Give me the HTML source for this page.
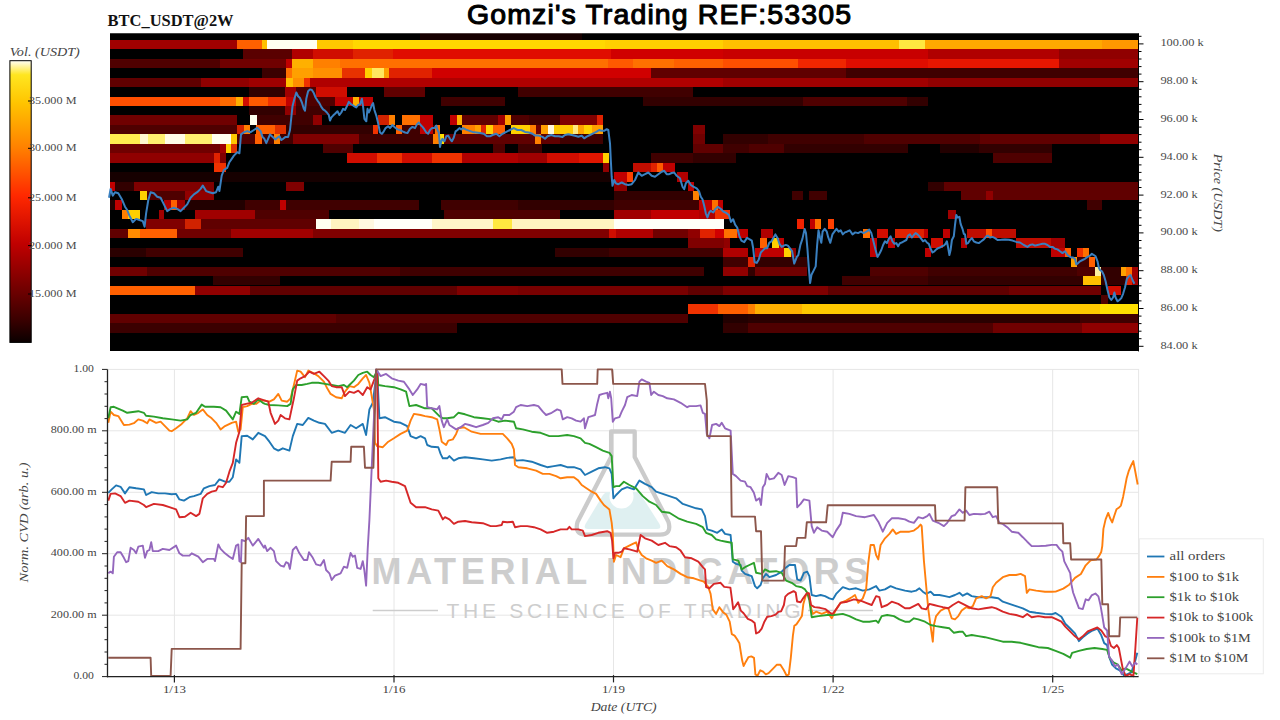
<!DOCTYPE html><html><head><meta charset="utf-8"><style>html,body{margin:0;padding:0;background:#fff;}svg{display:block;}text{font-family:"Liberation Serif",serif;}</style></head><body>
<svg width="1280" height="720" viewBox="0 0 1280 720">
<rect width="1280" height="720" fill="#fff"/>
<text x="659" y="23.6" text-anchor="middle" textLength="384" lengthAdjust="spacing" style="font-family:'Liberation Sans',sans-serif;font-size:28.5px" fill="#000" stroke="#000" stroke-width="1.1" stroke-linejoin="round" stroke-linecap="round">Gomzi's Trading REF:53305</text>
<text x="107.6" y="25.9" textLength="126" lengthAdjust="spacingAndGlyphs" style="font-weight:bold;font-size:16px" fill="#111">BTC_USDT@2W</text>
<defs><clipPath id="hc"><rect x="110" y="33.2" width="1028" height="318.2"/></clipPath><filter id="bl" x="-1%" y="-5%" width="102%" height="110%"><feGaussianBlur stdDeviation="0.55"/></filter></defs>
<g clip-path="url(#hc)"><g filter="url(#bl)" shape-rendering="crispEdges">
<rect x="110" y="33.2" width="1028" height="318.2" fill="#000"/>
<rect x="420" y="33.2" width="162" height="6.6" fill="#140000"/>
<rect x="110" y="39.8" width="127" height="9.5" fill="#a00000"/>
<rect x="237" y="39.8" width="24.7" height="9.5" fill="#ff6000"/>
<rect x="261.7" y="39.8" width="5.7" height="9.5" fill="#ffc000"/>
<rect x="267.4" y="39.8" width="49.6" height="9.5" fill="#fffff0"/>
<rect x="317" y="39.8" width="36" height="9.5" fill="#ffc800"/>
<rect x="353" y="39.8" width="251.5" height="9.5" fill="#ffd800"/>
<rect x="604.5" y="39.8" width="118.5" height="9.5" fill="#ffd000"/>
<rect x="723" y="39.8" width="176" height="9.5" fill="#ffc000"/>
<rect x="899" y="39.8" width="26" height="9.5" fill="#ffe840"/>
<rect x="925" y="39.8" width="177" height="9.5" fill="#ffa800"/>
<rect x="1102" y="39.8" width="36" height="9.5" fill="#ff9800"/>
<rect x="243" y="49.2" width="49" height="9.5" fill="#5a0000"/>
<rect x="292" y="49.2" width="21" height="9.5" fill="#b00000"/>
<rect x="313" y="49.2" width="40" height="9.5" fill="#d01000"/>
<rect x="353" y="49.2" width="40" height="9.5" fill="#e02000"/>
<rect x="393" y="49.2" width="218" height="9.5" fill="#e00800"/>
<rect x="611" y="49.2" width="112" height="9.5" fill="#d00000"/>
<rect x="723" y="49.2" width="205" height="9.5" fill="#c80000"/>
<rect x="928" y="49.2" width="131" height="9.5" fill="#b00000"/>
<rect x="1059" y="49.2" width="79" height="9.5" fill="#900000"/>
<rect x="110" y="58.7" width="110" height="9.4" fill="#500000"/>
<rect x="220" y="58.7" width="66" height="9.4" fill="#700000"/>
<rect x="286" y="58.7" width="6" height="9.4" fill="#c00000"/>
<rect x="292" y="58.7" width="21" height="9.4" fill="#ffb000"/>
<rect x="313" y="58.7" width="27" height="9.4" fill="#ff8000"/>
<rect x="340" y="58.7" width="267.7" height="9.4" fill="#ff7000"/>
<rect x="607.7" y="58.7" width="25.3" height="9.4" fill="#ff5a00"/>
<rect x="633" y="58.7" width="41" height="9.4" fill="#ff7000"/>
<rect x="674" y="58.7" width="49" height="9.4" fill="#ff6000"/>
<rect x="723" y="58.7" width="75" height="9.4" fill="#ff5000"/>
<rect x="798" y="58.7" width="48" height="9.4" fill="#f02800"/>
<rect x="846" y="58.7" width="82" height="9.4" fill="#e01000"/>
<rect x="928" y="58.7" width="131" height="9.4" fill="#e81800"/>
<rect x="1059" y="58.7" width="79" height="9.4" fill="#a00000"/>
<rect x="262" y="68.1" width="24" height="9.5" fill="#3a0000"/>
<rect x="286" y="68.1" width="6" height="9.5" fill="#ff7000"/>
<rect x="292" y="68.1" width="21" height="9.5" fill="#ffa000"/>
<rect x="313" y="68.1" width="29" height="9.5" fill="#ff9000"/>
<rect x="342" y="68.1" width="23" height="9.5" fill="#e83000"/>
<rect x="365" y="68.1" width="7" height="9.5" fill="#ffd000"/>
<rect x="372" y="68.1" width="11.5" height="9.5" fill="#ffe860"/>
<rect x="383.5" y="68.1" width="5.5" height="9.5" fill="#ffa000"/>
<rect x="389" y="68.1" width="43" height="9.5" fill="#e02000"/>
<rect x="432" y="68.1" width="219" height="9.5" fill="#d00000"/>
<rect x="651" y="68.1" width="72" height="9.5" fill="#600000"/>
<rect x="723" y="68.1" width="123" height="9.5" fill="#600000"/>
<rect x="846" y="68.1" width="292" height="9.5" fill="#400000"/>
<rect x="110" y="77.6" width="91" height="9.5" fill="#600000"/>
<rect x="201" y="77.6" width="48" height="9.5" fill="#900000"/>
<rect x="249" y="77.6" width="37" height="9.5" fill="#a00000"/>
<rect x="286" y="77.6" width="6.5" height="9.5" fill="#ffc000"/>
<rect x="292.5" y="77.6" width="11.2" height="9.5" fill="#ff9000"/>
<rect x="303.8" y="77.6" width="6.2" height="9.5" fill="#f03000"/>
<rect x="310" y="77.6" width="413" height="9.5" fill="#b00000"/>
<rect x="723" y="77.6" width="205" height="9.5" fill="#a00000"/>
<rect x="928" y="77.6" width="210" height="9.5" fill="#900000"/>
<rect x="249" y="87" width="36" height="9.5" fill="#300000"/>
<rect x="285" y="87" width="11" height="9.5" fill="#a00000"/>
<rect x="296" y="87" width="20" height="9.5" fill="#500000"/>
<rect x="316" y="87" width="31" height="9.5" fill="#d01000"/>
<rect x="383.5" y="87" width="41.5" height="9.5" fill="#600000"/>
<rect x="518" y="87" width="174.6" height="9.5" fill="#400000"/>
<rect x="110" y="96.5" width="110" height="9.5" fill="#ff5000"/>
<rect x="220" y="96.5" width="16" height="9.5" fill="#ff6a00"/>
<rect x="236" y="96.5" width="7" height="9.5" fill="#ffb000"/>
<rect x="243" y="96.5" width="6" height="9.5" fill="#d01000"/>
<rect x="249" y="96.5" width="18.5" height="9.5" fill="#ff5a00"/>
<rect x="267.5" y="96.5" width="18.5" height="9.5" fill="#f03000"/>
<rect x="286" y="96.5" width="10" height="9.5" fill="#c00000"/>
<rect x="296" y="96.5" width="39" height="9.5" fill="#500000"/>
<rect x="335" y="96.5" width="17.5" height="9.5" fill="#c00000"/>
<rect x="352.5" y="96.5" width="6.2" height="9.5" fill="#ffb000"/>
<rect x="358.8" y="96.5" width="13.8" height="9.5" fill="#c00000"/>
<rect x="441" y="96.5" width="64" height="9.5" fill="#400000"/>
<rect x="643" y="96.5" width="160" height="9.5" fill="#300000"/>
<rect x="803" y="96.5" width="104" height="9.5" fill="#500000"/>
<rect x="907" y="96.5" width="21" height="9.5" fill="#300000"/>
<rect x="249" y="105.9" width="36" height="9.5" fill="#300000"/>
<rect x="285" y="105.9" width="11" height="9.5" fill="#900000"/>
<rect x="296" y="105.9" width="34" height="9.5" fill="#400000"/>
<rect x="110" y="115.4" width="127" height="9.5" fill="#700000"/>
<rect x="250" y="115.4" width="6.5" height="9.5" fill="#fffff0"/>
<rect x="256.5" y="115.4" width="56.5" height="9.5" fill="#400000"/>
<rect x="313" y="115.4" width="9" height="9.5" fill="#900000"/>
<rect x="377.5" y="115.4" width="11.2" height="9.5" fill="#d02000"/>
<rect x="388.8" y="115.4" width="6.2" height="9.5" fill="#ff8000"/>
<rect x="402" y="115.4" width="18" height="9.5" fill="#ff7000"/>
<rect x="420" y="115.4" width="12.5" height="9.5" fill="#c00000"/>
<rect x="450" y="115.4" width="7" height="9.5" fill="#c00000"/>
<rect x="457" y="115.4" width="5" height="9.5" fill="#ffb000"/>
<rect x="462" y="115.4" width="35.5" height="9.5" fill="#600000"/>
<rect x="497.5" y="115.4" width="7.5" height="9.5" fill="#a00000"/>
<rect x="505" y="115.4" width="6" height="9.5" fill="#ffa000"/>
<rect x="511" y="115.4" width="18" height="9.5" fill="#500000"/>
<rect x="529" y="115.4" width="30.6" height="9.5" fill="#400000"/>
<rect x="559.6" y="115.4" width="36.9" height="9.5" fill="#800000"/>
<rect x="596.5" y="115.4" width="6.5" height="9.5" fill="#e02000"/>
<rect x="110" y="124.8" width="127" height="9.4" fill="#500000"/>
<rect x="237" y="124.8" width="7" height="9.4" fill="#d02000"/>
<rect x="244" y="124.8" width="6" height="9.4" fill="#ff8000"/>
<rect x="256" y="124.8" width="18.5" height="9.4" fill="#ff6000"/>
<rect x="274.5" y="124.8" width="11.5" height="9.4" fill="#e03000"/>
<rect x="286" y="124.8" width="86.5" height="9.4" fill="#300000"/>
<rect x="372.5" y="124.8" width="5" height="9.4" fill="#f03000"/>
<rect x="396" y="124.8" width="6" height="9.4" fill="#ff6000"/>
<rect x="402" y="124.8" width="18" height="9.4" fill="#400000"/>
<rect x="420" y="124.8" width="12.5" height="9.4" fill="#c00000"/>
<rect x="432.5" y="124.8" width="2.2" height="9.4" fill="#400000"/>
<rect x="434.7" y="124.8" width="4.8" height="9.4" fill="#ff7000"/>
<rect x="462" y="124.8" width="13" height="9.4" fill="#ff8000"/>
<rect x="475" y="124.8" width="6" height="9.4" fill="#ffa000"/>
<rect x="481" y="124.8" width="5" height="9.4" fill="#e02000"/>
<rect x="486" y="124.8" width="7" height="9.4" fill="#ffd000"/>
<rect x="493" y="124.8" width="12" height="9.4" fill="#ff6000"/>
<rect x="511" y="124.8" width="19" height="9.4" fill="#ffd000"/>
<rect x="530" y="124.8" width="6" height="9.4" fill="#ff8000"/>
<rect x="536" y="124.8" width="5" height="9.4" fill="#700000"/>
<rect x="541" y="124.8" width="6.6" height="9.4" fill="#ffa000"/>
<rect x="547.6" y="124.8" width="6.4" height="9.4" fill="#fff8e0"/>
<rect x="554" y="124.8" width="18.5" height="9.4" fill="#ffc800"/>
<rect x="572.5" y="124.8" width="5.5" height="9.4" fill="#ffe880"/>
<rect x="578" y="124.8" width="5.7" height="9.4" fill="#ffa000"/>
<rect x="583.7" y="124.8" width="8" height="9.4" fill="#ffd000"/>
<rect x="591.7" y="124.8" width="11.3" height="9.4" fill="#ffa000"/>
<rect x="692.6" y="124.8" width="12.8" height="9.4" fill="#800000"/>
<rect x="110" y="134.3" width="30" height="9.4" fill="#ffec50"/>
<rect x="140" y="134.3" width="7.8" height="9.4" fill="#fff8d0"/>
<rect x="147.8" y="134.3" width="16.8" height="9.4" fill="#fff070"/>
<rect x="164.6" y="134.3" width="19.9" height="9.4" fill="#fffce8"/>
<rect x="184.5" y="134.3" width="27.5" height="9.4" fill="#fff070"/>
<rect x="212" y="134.3" width="19" height="9.4" fill="#fffff0"/>
<rect x="231" y="134.3" width="6" height="9.4" fill="#ffc800"/>
<rect x="237" y="134.3" width="18" height="9.4" fill="#500000"/>
<rect x="255" y="134.3" width="7" height="9.4" fill="#ff6000"/>
<rect x="262" y="134.3" width="11.8" height="9.4" fill="#400000"/>
<rect x="273.8" y="134.3" width="6.2" height="9.4" fill="#ff8000"/>
<rect x="280" y="134.3" width="12.5" height="9.4" fill="#400000"/>
<rect x="292.5" y="134.3" width="66.5" height="9.4" fill="#800000"/>
<rect x="359" y="134.3" width="73.5" height="9.4" fill="#400000"/>
<rect x="432.5" y="134.3" width="6.5" height="9.4" fill="#ff8000"/>
<rect x="439" y="134.3" width="5" height="9.4" fill="#ffe000"/>
<rect x="444" y="134.3" width="91" height="9.4" fill="#600000"/>
<rect x="535" y="134.3" width="6" height="9.4" fill="#ff8000"/>
<rect x="541" y="134.3" width="19" height="9.4" fill="#600000"/>
<rect x="560" y="134.3" width="43" height="9.4" fill="#400000"/>
<rect x="692.6" y="134.3" width="12.8" height="9.4" fill="#700000"/>
<rect x="723" y="134.3" width="45" height="9.4" fill="#300000"/>
<rect x="768" y="134.3" width="96" height="9.4" fill="#400000"/>
<rect x="864" y="134.3" width="116" height="9.4" fill="#500000"/>
<rect x="980" y="134.3" width="120" height="9.4" fill="#600000"/>
<rect x="1100" y="134.3" width="38" height="9.4" fill="#900000"/>
<rect x="110" y="143.8" width="110" height="9.4" fill="#700000"/>
<rect x="220" y="143.8" width="6" height="9.4" fill="#a00000"/>
<rect x="226" y="143.8" width="5" height="9.4" fill="#ffd000"/>
<rect x="231" y="143.8" width="6" height="9.4" fill="#e03000"/>
<rect x="322.5" y="143.8" width="30" height="9.4" fill="#500000"/>
<rect x="492.5" y="143.8" width="12.5" height="9.4" fill="#500000"/>
<rect x="518" y="143.8" width="24" height="9.4" fill="#400000"/>
<rect x="692.6" y="143.8" width="30.4" height="9.4" fill="#600000"/>
<rect x="723" y="143.8" width="25.6" height="9.4" fill="#400000"/>
<rect x="748.6" y="143.8" width="35.4" height="9.4" fill="#500000"/>
<rect x="784" y="143.8" width="124" height="9.4" fill="#300000"/>
<rect x="940" y="143.8" width="39" height="9.4" fill="#200000"/>
<rect x="979" y="143.8" width="73" height="9.4" fill="#300000"/>
<rect x="110" y="153.2" width="104" height="9.4" fill="#900000"/>
<rect x="214" y="153.2" width="6" height="9.4" fill="#e02000"/>
<rect x="220" y="153.2" width="6" height="9.4" fill="#800000"/>
<rect x="346.6" y="153.2" width="30.4" height="9.4" fill="#d01000"/>
<rect x="377" y="153.2" width="25" height="9.4" fill="#f03000"/>
<rect x="402" y="153.2" width="30" height="9.4" fill="#d01000"/>
<rect x="432" y="153.2" width="30" height="9.4" fill="#f03000"/>
<rect x="462" y="153.2" width="56" height="9.4" fill="#b00000"/>
<rect x="518" y="153.2" width="28.8" height="9.4" fill="#a00000"/>
<rect x="546.8" y="153.2" width="32.2" height="9.4" fill="#d01000"/>
<rect x="579" y="153.2" width="24" height="9.4" fill="#e01800"/>
<rect x="603" y="153.2" width="6.3" height="9.4" fill="#ffd000"/>
<rect x="651" y="153.2" width="41.6" height="9.4" fill="#400000"/>
<rect x="692.6" y="153.2" width="43.4" height="9.4" fill="#300000"/>
<rect x="992.6" y="153.2" width="59.4" height="9.4" fill="#500000"/>
<rect x="214" y="162.6" width="12" height="9.4" fill="#f03000"/>
<rect x="603" y="162.6" width="6.3" height="9.4" fill="#900000"/>
<rect x="633" y="162.6" width="18" height="9.4" fill="#c01000"/>
<rect x="651" y="162.6" width="6" height="9.4" fill="#e02000"/>
<rect x="657" y="162.6" width="6" height="9.4" fill="#ff5a00"/>
<rect x="663" y="162.6" width="12" height="9.4" fill="#c00000"/>
<rect x="110" y="172.1" width="504" height="9.4" fill="#150000"/>
<rect x="614" y="172.1" width="13" height="9.4" fill="#c00000"/>
<rect x="627" y="172.1" width="6" height="9.4" fill="#ff4000"/>
<rect x="676.5" y="172.1" width="11.3" height="9.4" fill="#b00000"/>
<rect x="110" y="181.6" width="5" height="9.4" fill="#c00000"/>
<rect x="115" y="181.6" width="19" height="9.4" fill="#300000"/>
<rect x="134" y="181.6" width="80" height="9.4" fill="#800000"/>
<rect x="286" y="181.6" width="18" height="9.4" fill="#800000"/>
<rect x="614" y="181.6" width="13" height="9.4" fill="#900000"/>
<rect x="687.8" y="181.6" width="6.2" height="9.4" fill="#c00000"/>
<rect x="928" y="181.6" width="16" height="9.4" fill="#300000"/>
<rect x="944" y="181.6" width="194" height="9.4" fill="#600000"/>
<rect x="140" y="191" width="6.5" height="9.4" fill="#ffd000"/>
<rect x="146.5" y="191" width="38.5" height="9.4" fill="#500000"/>
<rect x="185" y="191" width="29" height="9.4" fill="#900000"/>
<rect x="614" y="191" width="78.6" height="9.4" fill="#300000"/>
<rect x="692.6" y="191" width="6.4" height="9.4" fill="#ff8000"/>
<rect x="792" y="191" width="11" height="9.4" fill="#400000"/>
<rect x="809" y="191" width="18" height="9.4" fill="#400000"/>
<rect x="961" y="191" width="25" height="9.4" fill="#600000"/>
<rect x="986" y="191" width="6.6" height="9.4" fill="#900000"/>
<rect x="992.6" y="191" width="145.4" height="9.4" fill="#600000"/>
<rect x="110" y="200.4" width="5" height="9.4" fill="#200000"/>
<rect x="115" y="200.4" width="6.6" height="9.4" fill="#c00000"/>
<rect x="164" y="200.4" width="6.5" height="9.4" fill="#b00000"/>
<rect x="170.5" y="200.4" width="6.5" height="9.4" fill="#ff6000"/>
<rect x="177" y="200.4" width="8" height="9.4" fill="#a00000"/>
<rect x="185" y="200.4" width="59.5" height="9.4" fill="#200000"/>
<rect x="244.5" y="200.4" width="35.5" height="9.4" fill="#400000"/>
<rect x="280" y="200.4" width="6" height="9.4" fill="#c00000"/>
<rect x="286" y="200.4" width="132.7" height="9.4" fill="#400000"/>
<rect x="441" y="200.4" width="77" height="9.4" fill="#400000"/>
<rect x="518" y="200.4" width="96" height="9.4" fill="#300000"/>
<rect x="614" y="200.4" width="85" height="9.4" fill="#400000"/>
<rect x="699" y="200.4" width="12.8" height="9.4" fill="#c00000"/>
<rect x="711.8" y="200.4" width="6.4" height="9.4" fill="#ff7000"/>
<rect x="718.2" y="200.4" width="4.8" height="9.4" fill="#c00000"/>
<rect x="1087" y="200.4" width="15" height="9.4" fill="#400000"/>
<rect x="121.6" y="209.9" width="6.4" height="9.4" fill="#ff8000"/>
<rect x="128" y="209.9" width="12" height="9.4" fill="#ffd000"/>
<rect x="159" y="209.9" width="5" height="9.4" fill="#a00000"/>
<rect x="195" y="209.9" width="60" height="9.4" fill="#a00000"/>
<rect x="255" y="209.9" width="74" height="9.4" fill="#500000"/>
<rect x="444" y="209.9" width="115.6" height="9.4" fill="#500000"/>
<rect x="614" y="209.9" width="37" height="9.4" fill="#a00000"/>
<rect x="651" y="209.9" width="48" height="9.4" fill="#c00000"/>
<rect x="699" y="209.9" width="16" height="9.4" fill="#b00000"/>
<rect x="715" y="209.9" width="15" height="9.4" fill="#f03000"/>
<rect x="948" y="209.9" width="8" height="9.4" fill="#a00000"/>
<rect x="146" y="219.3" width="39" height="9.4" fill="#800000"/>
<rect x="185" y="219.3" width="16" height="9.4" fill="#d02000"/>
<rect x="201" y="219.3" width="115" height="9.4" fill="#600000"/>
<rect x="316" y="219.3" width="14.6" height="9.4" fill="#fffff0"/>
<rect x="330.6" y="219.3" width="28.4" height="9.4" fill="#fff4c0"/>
<rect x="359" y="219.3" width="15" height="9.4" fill="#fff8e0"/>
<rect x="374" y="219.3" width="57.5" height="9.4" fill="#fffff8"/>
<rect x="431.5" y="219.3" width="61.5" height="9.4" fill="#fff6c8"/>
<rect x="493" y="219.3" width="18.6" height="9.4" fill="#ffe840"/>
<rect x="511.6" y="219.3" width="102.4" height="9.4" fill="#fff4c0"/>
<rect x="614" y="219.3" width="110" height="9.4" fill="#fffff8"/>
<rect x="797" y="219.3" width="7" height="9.4" fill="#f02000"/>
<rect x="810" y="219.3" width="5" height="9.4" fill="#c00000"/>
<rect x="815" y="219.3" width="6" height="9.4" fill="#ff7000"/>
<rect x="827.5" y="219.3" width="6.2" height="9.4" fill="#ff4000"/>
<rect x="110" y="228.8" width="18" height="9.4" fill="#600000"/>
<rect x="128" y="228.8" width="12" height="9.4" fill="#ff8c00"/>
<rect x="140" y="228.8" width="37" height="9.4" fill="#ff6000"/>
<rect x="177" y="228.8" width="53.5" height="9.4" fill="#700000"/>
<rect x="230.5" y="228.8" width="82.5" height="9.4" fill="#a00000"/>
<rect x="313" y="228.8" width="296" height="9.4" fill="#800000"/>
<rect x="609" y="228.8" width="7" height="9.4" fill="#d01000"/>
<rect x="616" y="228.8" width="36.8" height="9.4" fill="#b00000"/>
<rect x="652.8" y="228.8" width="35" height="9.4" fill="#700000"/>
<rect x="687.8" y="228.8" width="12.2" height="9.4" fill="#900000"/>
<rect x="700" y="228.8" width="15" height="9.4" fill="#e02000"/>
<rect x="715" y="228.8" width="9" height="9.4" fill="#d00000"/>
<rect x="724" y="228.8" width="13" height="9.4" fill="#ff7000"/>
<rect x="737" y="228.8" width="11" height="9.4" fill="#c00000"/>
<rect x="761" y="228.8" width="12" height="9.4" fill="#b00000"/>
<rect x="863" y="228.8" width="7" height="9.4" fill="#ff7000"/>
<rect x="877" y="228.8" width="10.5" height="9.4" fill="#d01000"/>
<rect x="894.5" y="228.8" width="29.5" height="9.4" fill="#e02000"/>
<rect x="924" y="228.8" width="4" height="9.4" fill="#c00000"/>
<rect x="943" y="228.8" width="7" height="9.4" fill="#c00000"/>
<rect x="966.5" y="228.8" width="19.3" height="9.4" fill="#c01000"/>
<rect x="985.8" y="228.8" width="6.2" height="9.4" fill="#ff5000"/>
<rect x="992" y="228.8" width="23.5" height="9.4" fill="#c01000"/>
<rect x="687.8" y="238.2" width="36.2" height="9.4" fill="#800000"/>
<rect x="724" y="238.2" width="6" height="9.4" fill="#900000"/>
<rect x="760" y="238.2" width="7" height="9.4" fill="#ff6000"/>
<rect x="772" y="238.2" width="7" height="9.4" fill="#ffd000"/>
<rect x="779" y="238.2" width="5" height="9.4" fill="#c00000"/>
<rect x="870" y="238.2" width="7" height="9.4" fill="#c00000"/>
<rect x="887.5" y="238.2" width="7" height="9.4" fill="#c00000"/>
<rect x="930.6" y="238.2" width="12.4" height="9.4" fill="#d01000"/>
<rect x="961" y="238.2" width="5.5" height="9.4" fill="#b00000"/>
<rect x="1015.5" y="238.2" width="35.5" height="9.4" fill="#c01000"/>
<rect x="1051" y="238.2" width="14" height="9.4" fill="#a00000"/>
<rect x="110" y="247.7" width="36" height="9.4" fill="#2a0000"/>
<rect x="146" y="247.7" width="97" height="9.4" fill="#400000"/>
<rect x="555" y="247.7" width="54" height="9.4" fill="#300000"/>
<rect x="609" y="247.7" width="114" height="9.4" fill="#400000"/>
<rect x="723" y="247.7" width="24.5" height="9.4" fill="#b00000"/>
<rect x="754.5" y="247.7" width="29.5" height="9.4" fill="#c00000"/>
<rect x="784" y="247.7" width="7" height="9.4" fill="#ffd000"/>
<rect x="791" y="247.7" width="5" height="9.4" fill="#900000"/>
<rect x="870" y="247.7" width="7" height="9.4" fill="#c00000"/>
<rect x="925" y="247.7" width="6" height="9.4" fill="#c00000"/>
<rect x="1051" y="247.7" width="14" height="9.4" fill="#c00000"/>
<rect x="1065" y="247.7" width="5.7" height="9.4" fill="#ff6000"/>
<rect x="1077" y="247.7" width="5.5" height="9.4" fill="#f03000"/>
<rect x="1082.5" y="247.7" width="6" height="9.4" fill="#ff7000"/>
<rect x="723" y="257.1" width="25" height="9.4" fill="#400000"/>
<rect x="748" y="257.1" width="6.5" height="9.4" fill="#e02000"/>
<rect x="754.5" y="257.1" width="52.5" height="9.4" fill="#300000"/>
<rect x="1070.7" y="257.1" width="5.8" height="9.4" fill="#ffa000"/>
<rect x="1076.5" y="257.1" width="12.5" height="9.4" fill="#400000"/>
<rect x="1089" y="257.1" width="6" height="9.4" fill="#ff6000"/>
<rect x="110" y="266.6" width="36.5" height="9.4" fill="#700000"/>
<rect x="146.5" y="266.6" width="253.5" height="9.4" fill="#500000"/>
<rect x="400" y="266.6" width="303.5" height="9.4" fill="#400000"/>
<rect x="723" y="266.6" width="24.5" height="9.4" fill="#900000"/>
<rect x="747.5" y="266.6" width="7" height="9.4" fill="#300000"/>
<rect x="754.5" y="266.6" width="52.5" height="9.4" fill="#700000"/>
<rect x="870" y="266.6" width="58" height="9.4" fill="#500000"/>
<rect x="928" y="266.6" width="149" height="9.4" fill="#400000"/>
<rect x="1077" y="266.6" width="18" height="9.4" fill="#500000"/>
<rect x="1095" y="266.6" width="6" height="9.4" fill="#fff0a0"/>
<rect x="1101" y="266.6" width="19.6" height="9.4" fill="#300000"/>
<rect x="1120.6" y="266.6" width="5.2" height="9.4" fill="#ffa000"/>
<rect x="1125.8" y="266.6" width="6.2" height="9.4" fill="#ff7000"/>
<rect x="1132" y="266.6" width="6" height="9.4" fill="#a00000"/>
<rect x="213" y="276" width="66.5" height="9.4" fill="#300000"/>
<rect x="842" y="276" width="86" height="9.4" fill="#400000"/>
<rect x="928" y="276" width="155" height="9.4" fill="#300000"/>
<rect x="1083" y="276" width="18" height="9.4" fill="#ffc000"/>
<rect x="1101" y="276" width="24.8" height="9.4" fill="#300000"/>
<rect x="1125.8" y="276" width="6.2" height="9.4" fill="#e02000"/>
<rect x="1132" y="276" width="6" height="9.4" fill="#a00000"/>
<rect x="110" y="285.5" width="84.6" height="9.4" fill="#ff6000"/>
<rect x="194.6" y="285.5" width="55.4" height="9.4" fill="#900000"/>
<rect x="250" y="285.5" width="206.5" height="9.4" fill="#600000"/>
<rect x="456.5" y="285.5" width="61.5" height="9.4" fill="#800000"/>
<rect x="518" y="285.5" width="169.8" height="9.4" fill="#780000"/>
<rect x="687.8" y="285.5" width="35.2" height="9.4" fill="#600000"/>
<rect x="723" y="285.5" width="105" height="9.4" fill="#800000"/>
<rect x="828" y="285.5" width="180.5" height="9.4" fill="#600000"/>
<rect x="1008.5" y="285.5" width="92.5" height="9.4" fill="#700000"/>
<rect x="1108" y="285.5" width="12.6" height="9.4" fill="#d01000"/>
<rect x="1101" y="294.9" width="7" height="9.4" fill="#500000"/>
<rect x="687.8" y="304.4" width="29.7" height="9.4" fill="#f03000"/>
<rect x="717.5" y="304.4" width="30" height="9.4" fill="#ff6000"/>
<rect x="747.5" y="304.4" width="7" height="9.4" fill="#ff8000"/>
<rect x="754.5" y="304.4" width="47.5" height="9.4" fill="#ffb000"/>
<rect x="802" y="304.4" width="298" height="9.4" fill="#ffc800"/>
<rect x="1100" y="304.4" width="38" height="9.4" fill="#ffe000"/>
<rect x="110" y="313.8" width="226" height="9.4" fill="#600000"/>
<rect x="336" y="313.8" width="351.8" height="9.4" fill="#500000"/>
<rect x="723" y="313.8" width="24.5" height="9.4" fill="#200000"/>
<rect x="747.5" y="313.8" width="332.5" height="9.4" fill="#2a0000"/>
<rect x="1080" y="313.8" width="58" height="9.4" fill="#400000"/>
<rect x="110" y="323.3" width="346.5" height="9.4" fill="#3a0000"/>
<rect x="723" y="323.3" width="24.5" height="9.4" fill="#300000"/>
<rect x="747.5" y="323.3" width="245.5" height="9.4" fill="#500000"/>
<rect x="993" y="323.3" width="89" height="9.4" fill="#700000"/>
<rect x="1082" y="323.3" width="56" height="9.4" fill="#900000"/>
</g></g>
<polyline points="109,197.8 110.6,188.9 112.8,195.6 115,192.2 118.3,193.3 121.7,198.9 125,206.7 127.2,210 129.4,215.6 132.8,222.2 136.1,218.9 139.4,220 142.8,221.1 144.6,226.7 146.1,213.3 148.3,200 150.6,192.2 153.9,193.3 157.2,196.7 160.6,197.8 163.9,204.4 167.2,211.1 170.6,208.9 173.9,207.8 177.2,208.9 180.6,211.1 183.9,207.8 187.2,204.4 190.6,197.8 193.9,194.4 197.2,192.2 200.6,188.9 202.8,185.6 206.1,191.1 209.4,192.2 212.8,193.3 216.1,192.2 218.3,186.7 219.4,191.1 221.7,175.6 223.9,170 227.2,167.8 229.4,162.2 231.7,158.9 233.9,155.6 237.2,152.2 239.4,153.3 241,134.4 243.9,132.2 247.2,131.1 250.6,132.2 253.9,130 257.2,127.8 260.6,131.1 262.5,136.9 264.4,138.8 266.3,143.1 268.1,138.8 270,134.4 271.9,136.3 273.8,138.1 275.6,139.4 277.5,137.5 279.4,136.3 281.3,140 283.1,138.8 285.6,136.9 288.1,136.9 290,130 291.3,117.5 292.5,106.3 294.4,98.8 296.3,92.5 298.1,96.3 300,98.1 301.9,102.5 303.8,108.8 305,110.6 306.3,98.8 308.1,91.3 310,89.4 311.9,90 313.8,93.1 315.6,97.5 317.5,100.6 319.4,103.1 321.3,106.9 323.1,109.4 325,110.6 326.9,112.5 328.8,115 330,120.6 331.3,117.5 333.1,115.6 335,113.8 337.5,111.3 339.4,115 341.3,112.5 343.1,108.8 345,110 346.9,106.3 348.8,101.9 350.6,103.8 352.5,105 354.4,106.3 356.3,107.5 358.1,105 360,104.4 361.9,98.8 363.1,106.9 364.4,118.8 366.3,121.3 367.5,108.8 368.8,112.5 370,110 371.9,105 373.1,103.1 374.4,110 376.3,115.6 378.1,123.1 380,132.5 381.9,133.8 383.8,131.3 385.6,128.1 388.1,126.3 390,128.1 392.5,125 395,127.5 397.5,129.4 400,130 402.5,131.3 405,132.5 407.5,133.1 410,128.8 412.5,126.9 415,128.1 416.9,124.4 418.8,122.5 420.6,125 422.5,126.9 424.4,129.4 426.3,132.5 428.1,133.8 430,130 431.9,128.1 434.4,128.1 436.3,125.6 437.5,130 438.8,132.5 440,146.9 441.3,141.3 442.5,138.8 444.4,141.3 446.3,136.3 448.1,135.6 450,138.8 451.9,141.3 453.8,137.5 455.6,131.3 457.5,130 459.4,128.1 461.3,129.4 463.1,128.1 465.6,129.4 468.8,130.6 472.5,131.9 476.3,132.5 480,133.1 483.8,133.8 486.9,136.3 490,136.3 492.5,135 496.3,133.8 499.4,136.3 502.5,133.8 506.3,131.9 510,130 513.8,128.1 517.5,130 521.3,130 525,131.9 528.8,132.5 532.5,133.8 535,135.6 538.8,135.6 542.5,136.9 545,138.8 547.5,136.3 551.3,135 555,136.3 558.8,136.3 562.5,136.9 565,135 568.3,134.2 571.7,135 575,135.8 578.3,136.7 581.7,135.8 584.2,138.3 586.7,136.7 590,135 593.3,133.3 596.7,131.7 599.2,130 601.7,130.8 604.2,130.8 606.7,129.2 608.3,130 610,143.3 610.8,160 611.7,176.7 612.5,185.8 614.2,180 615.8,183.3 618.3,184.2 621.7,182.5 625,184.2 628.3,185 631.7,184.2 635,180 638.3,172.5 641.7,175.8 645,174.2 648.3,172.5 651.7,175.8 655,176.7 658.3,174.2 661.7,171.7 664.2,170.8 666.7,174.2 669.2,174.2 671.7,173 674.2,172.5 676.7,175.8 680,178.3 682.5,186.7 684.2,189.2 685.8,183.3 688.3,180.8 690.8,185 693.3,186.7 696.7,188.3 699.2,191.7 700.8,196.7 702.5,199.2 704.2,205.8 705.8,213.3 707.5,217.5 709.2,212.5 710.8,210.8 713.3,212.5 715,209.4 717.8,206.7 720.6,208.8 723.3,211.5 726.1,212.9 728.9,215 731,221.9 733.1,219.2 735.1,224.7 737.2,227.5 739.3,235.8 741.4,240.7 744.2,242.1 747,237.9 749.7,239.3 751.8,240.7 753.2,248.3 754.6,262.2 756.7,262.9 758.8,259.4 760.8,252.5 762.9,250.4 765,248.3 767.1,248.3 769.2,242.8 771.3,241.4 773.3,237.9 775.4,234.4 777.5,237.9 779.6,244.2 781.7,246.9 783.8,245.6 785.8,244.9 787.9,245.6 790,248.3 792.1,251.1 794.2,263.6 795.6,260.1 796.9,256.7 798.3,255.3 800.4,244.9 802.5,238.6 804.6,228.9 806,233.1 807.4,248.3 808.8,267.8 810.1,283.1 811.5,274.7 813.6,270.6 815.7,266.4 817.1,245.6 818.5,230.3 819.9,237.2 821.3,242.8 822.6,231.7 824.7,228.9 826.8,231.7 828.2,237.2 830.3,242.8 832.4,234.4 834.4,231.7 836.5,228.9 838.6,231.7 840.7,230.3 842.8,234.4 844.9,232.4 846.9,231.7 849.7,230.3 852.5,234.4 855.3,232.4 858.1,233.1 860.8,231.7 863.6,233.1 866.4,231.7 869.2,229.6 871.3,233.1 873.1,240 875.6,250 877.5,256.9 879.4,253.8 881.3,250 883.1,245 885,241.3 886.9,243.1 888.8,238.8 890.6,236.3 892.5,241.3 894.4,243.8 896.3,243.1 898.1,246.3 900,243.1 901.9,242.5 903.8,241.3 906.3,240 908.1,235.6 910,234.4 911.9,237.5 913.8,235 915.6,233.1 917.5,234.4 919.4,236.3 921.3,238.8 923.1,241.3 925,240 926.9,242.5 928.8,243.8 930.6,248.8 932.5,252.5 934.4,251.3 936.3,249.4 938.1,248.1 940,247.5 941.9,246.3 943.8,245.6 945.6,243.8 946.9,241.3 948.1,247.5 949.4,255 950.6,250 951.9,240 953.8,236.3 955,225 956.3,215 957.5,217.5 959.4,216.9 960.6,223.8 962.5,228.8 963.8,233.8 965,234.4 966.3,243.8 968.1,243.1 970,240 971.9,238.1 973.8,241.3 976.3,242.5 978.8,243.1 981.3,241.3 983.8,239.4 986.3,236.3 988.1,235.6 990,237.5 992.5,236.9 995,238.1 997.5,240 1001.3,239.8 1005,239.4 1008.8,239.8 1012.5,240.6 1016.3,241.9 1020,242.5 1023.8,245 1027.5,246.9 1030,245 1032.5,244.4 1035,245.6 1037.5,245 1040,244.4 1042.5,243.8 1045,243.8 1047.5,245 1050,246.9 1052.5,246.9 1055,248.8 1057.5,249.4 1060,251.3 1062.5,253.1 1065,251.3 1067.5,255 1069.4,256.3 1071.3,257.5 1073.1,257.5 1075,258.8 1076.3,264.4 1078.1,263.1 1080,261.3 1082.5,260 1085,258.8 1087.5,256.9 1090,255.6 1091.9,253.8 1093.8,255 1095.6,256.3 1097.5,261.3 1098.8,267.5 1100,270 1101.9,271.3 1103.8,275 1105.6,281.3 1107.5,290 1109.4,297.5 1111.3,300 1113.1,297.5 1114.4,292.5 1115.6,297.5 1117.5,301.3 1119.4,300 1121.3,298.1 1123.1,293.8 1125,287.5 1126.9,278.8 1128.8,276.3 1130.6,275 1132.5,280 1134.4,283.8" fill="none" stroke="#3a80c0" stroke-width="2" stroke-linejoin="round"/>
<line x1="1138.5" y1="33.2" x2="1138.5" y2="351.4" stroke="#000" stroke-width="1"/>
<line x1="1138" y1="36.3" x2="1141.5" y2="36.3" stroke="#000" stroke-width="1"/>
<line x1="1138" y1="43.9" x2="1143.5" y2="43.9" stroke="#000" stroke-width="1"/>
<line x1="1138" y1="51.5" x2="1141.5" y2="51.5" stroke="#000" stroke-width="1"/>
<line x1="1138" y1="59" x2="1141.5" y2="59" stroke="#000" stroke-width="1"/>
<line x1="1138" y1="66.6" x2="1141.5" y2="66.6" stroke="#000" stroke-width="1"/>
<line x1="1138" y1="74.1" x2="1141.5" y2="74.1" stroke="#000" stroke-width="1"/>
<line x1="1138" y1="81.7" x2="1143.5" y2="81.7" stroke="#000" stroke-width="1"/>
<line x1="1138" y1="89.3" x2="1141.5" y2="89.3" stroke="#000" stroke-width="1"/>
<line x1="1138" y1="96.8" x2="1141.5" y2="96.8" stroke="#000" stroke-width="1"/>
<line x1="1138" y1="104.4" x2="1141.5" y2="104.4" stroke="#000" stroke-width="1"/>
<line x1="1138" y1="111.9" x2="1141.5" y2="111.9" stroke="#000" stroke-width="1"/>
<line x1="1138" y1="119.5" x2="1143.5" y2="119.5" stroke="#000" stroke-width="1"/>
<line x1="1138" y1="127.1" x2="1141.5" y2="127.1" stroke="#000" stroke-width="1"/>
<line x1="1138" y1="134.6" x2="1141.5" y2="134.6" stroke="#000" stroke-width="1"/>
<line x1="1138" y1="142.2" x2="1141.5" y2="142.2" stroke="#000" stroke-width="1"/>
<line x1="1138" y1="149.7" x2="1141.5" y2="149.7" stroke="#000" stroke-width="1"/>
<line x1="1138" y1="157.3" x2="1143.5" y2="157.3" stroke="#000" stroke-width="1"/>
<line x1="1138" y1="164.9" x2="1141.5" y2="164.9" stroke="#000" stroke-width="1"/>
<line x1="1138" y1="172.4" x2="1141.5" y2="172.4" stroke="#000" stroke-width="1"/>
<line x1="1138" y1="180" x2="1141.5" y2="180" stroke="#000" stroke-width="1"/>
<line x1="1138" y1="187.5" x2="1141.5" y2="187.5" stroke="#000" stroke-width="1"/>
<line x1="1138" y1="195.1" x2="1143.5" y2="195.1" stroke="#000" stroke-width="1"/>
<line x1="1138" y1="202.7" x2="1141.5" y2="202.7" stroke="#000" stroke-width="1"/>
<line x1="1138" y1="210.2" x2="1141.5" y2="210.2" stroke="#000" stroke-width="1"/>
<line x1="1138" y1="217.8" x2="1141.5" y2="217.8" stroke="#000" stroke-width="1"/>
<line x1="1138" y1="225.3" x2="1141.5" y2="225.3" stroke="#000" stroke-width="1"/>
<line x1="1138" y1="232.9" x2="1143.5" y2="232.9" stroke="#000" stroke-width="1"/>
<line x1="1138" y1="240.5" x2="1141.5" y2="240.5" stroke="#000" stroke-width="1"/>
<line x1="1138" y1="248" x2="1141.5" y2="248" stroke="#000" stroke-width="1"/>
<line x1="1138" y1="255.6" x2="1141.5" y2="255.6" stroke="#000" stroke-width="1"/>
<line x1="1138" y1="263.1" x2="1141.5" y2="263.1" stroke="#000" stroke-width="1"/>
<line x1="1138" y1="270.7" x2="1143.5" y2="270.7" stroke="#000" stroke-width="1"/>
<line x1="1138" y1="278.3" x2="1141.5" y2="278.3" stroke="#000" stroke-width="1"/>
<line x1="1138" y1="285.8" x2="1141.5" y2="285.8" stroke="#000" stroke-width="1"/>
<line x1="1138" y1="293.4" x2="1141.5" y2="293.4" stroke="#000" stroke-width="1"/>
<line x1="1138" y1="300.9" x2="1141.5" y2="300.9" stroke="#000" stroke-width="1"/>
<line x1="1138" y1="308.5" x2="1143.5" y2="308.5" stroke="#000" stroke-width="1"/>
<line x1="1138" y1="316.1" x2="1141.5" y2="316.1" stroke="#000" stroke-width="1"/>
<line x1="1138" y1="323.6" x2="1141.5" y2="323.6" stroke="#000" stroke-width="1"/>
<line x1="1138" y1="331.2" x2="1141.5" y2="331.2" stroke="#000" stroke-width="1"/>
<line x1="1138" y1="338.7" x2="1141.5" y2="338.7" stroke="#000" stroke-width="1"/>
<line x1="1138" y1="346.3" x2="1143.5" y2="346.3" stroke="#000" stroke-width="1"/>
<text x="1160.4" y="348.8" textLength="37.2" lengthAdjust="spacingAndGlyphs" style="font-size:11px" fill="#4a4a4a">84.00 k</text>
<text x="1160.4" y="311" textLength="37.2" lengthAdjust="spacingAndGlyphs" style="font-size:11px" fill="#4a4a4a">86.00 k</text>
<text x="1160.4" y="273.2" textLength="37.2" lengthAdjust="spacingAndGlyphs" style="font-size:11px" fill="#4a4a4a">88.00 k</text>
<text x="1160.4" y="235.4" textLength="37.2" lengthAdjust="spacingAndGlyphs" style="font-size:11px" fill="#4a4a4a">90.00 k</text>
<text x="1160.4" y="197.6" textLength="37.2" lengthAdjust="spacingAndGlyphs" style="font-size:11px" fill="#4a4a4a">92.00 k</text>
<text x="1160.4" y="159.8" textLength="37.2" lengthAdjust="spacingAndGlyphs" style="font-size:11px" fill="#4a4a4a">94.00 k</text>
<text x="1160.4" y="122" textLength="37.2" lengthAdjust="spacingAndGlyphs" style="font-size:11px" fill="#4a4a4a">96.00 k</text>
<text x="1160.4" y="84.2" textLength="37.2" lengthAdjust="spacingAndGlyphs" style="font-size:11px" fill="#4a4a4a">98.00 k</text>
<text x="1160.4" y="46.4" textLength="43.4" lengthAdjust="spacingAndGlyphs" style="font-size:11px" fill="#4a4a4a">100.00 k</text>
<text transform="translate(1213.5,192.8) rotate(90)" text-anchor="middle" textLength="78" lengthAdjust="spacingAndGlyphs" style="font-size:12.5px;font-style:italic" fill="#444">Price (USDT)</text>
<defs><linearGradient id="cb" x1="0" y1="1" x2="0" y2="0"><stop offset="0" stop-color="#0a0000"/><stop offset="0.08" stop-color="#3a0000"/><stop offset="0.17" stop-color="#680000"/><stop offset="0.35" stop-color="#c00000"/><stop offset="0.52" stop-color="#ff2800"/><stop offset="0.69" stop-color="#ff8000"/><stop offset="0.85" stop-color="#ffc400"/><stop offset="0.95" stop-color="#ffe620"/><stop offset="0.98" stop-color="#fff4a0"/><stop offset="1" stop-color="#fffff8"/></linearGradient></defs>
<rect x="9.9" y="60.7" width="21.3" height="281.7" fill="url(#cb)" stroke="#000" stroke-width="1"/>
<line x1="28" y1="101" x2="31.5" y2="101" stroke="#000" stroke-width="1"/>
<text x="29" y="103.9" textLength="47.5" lengthAdjust="spacingAndGlyphs" style="font-size:11px" fill="#4a4a4a">35.000 M</text>
<line x1="28" y1="148.3" x2="31.5" y2="148.3" stroke="#000" stroke-width="1"/>
<text x="29" y="151.2" textLength="47.5" lengthAdjust="spacingAndGlyphs" style="font-size:11px" fill="#4a4a4a">30.000 M</text>
<line x1="28" y1="197.8" x2="31.5" y2="197.8" stroke="#000" stroke-width="1"/>
<text x="29" y="200.7" textLength="47.5" lengthAdjust="spacingAndGlyphs" style="font-size:11px" fill="#4a4a4a">25.000 M</text>
<line x1="28" y1="245.6" x2="31.5" y2="245.6" stroke="#000" stroke-width="1"/>
<text x="29" y="248.5" textLength="47.5" lengthAdjust="spacingAndGlyphs" style="font-size:11px" fill="#4a4a4a">20.000 M</text>
<line x1="28" y1="294" x2="31.5" y2="294" stroke="#000" stroke-width="1"/>
<text x="29" y="296.9" textLength="47.5" lengthAdjust="spacingAndGlyphs" style="font-size:11px" fill="#4a4a4a">15.000 M</text>
<text x="9.8" y="55.6" textLength="70" lengthAdjust="spacingAndGlyphs" style="font-size:12.5px;font-style:italic" fill="#444">Vol. (USDT)</text>
<rect x="107.5" y="369.4" width="1031.1" height="307.2" fill="#fff" stroke="#e6e6e6" stroke-width="1"/>
<line x1="107.5" y1="430.8" x2="1138.6" y2="430.8" stroke="#e6e6e6" stroke-width="1"/>
<line x1="107.5" y1="492.3" x2="1138.6" y2="492.3" stroke="#e6e6e6" stroke-width="1"/>
<line x1="107.5" y1="553.7" x2="1138.6" y2="553.7" stroke="#e6e6e6" stroke-width="1"/>
<line x1="107.5" y1="615.2" x2="1138.6" y2="615.2" stroke="#e6e6e6" stroke-width="1"/>
<line x1="174.4" y1="369.4" x2="174.4" y2="676.6" stroke="#e6e6e6" stroke-width="1"/>
<line x1="394" y1="369.4" x2="394" y2="676.6" stroke="#e6e6e6" stroke-width="1"/>
<line x1="613.5" y1="369.4" x2="613.5" y2="676.6" stroke="#e6e6e6" stroke-width="1"/>
<line x1="833.1" y1="369.4" x2="833.1" y2="676.6" stroke="#e6e6e6" stroke-width="1"/>
<line x1="1052.7" y1="369.4" x2="1052.7" y2="676.6" stroke="#e6e6e6" stroke-width="1"/>
<g opacity="1">
<path d="M588,529 Q583,529 585.5,524 L603,495 L606,492 L637,492 L641,495 L659.5,524 Q662,529 657,529 Z" fill="#dff0f1"/>
<circle cx="621.5" cy="496.5" r="12" fill="#fff"/>
<path d="M611.1,431.5 L634.7,431.5 L634.7,457 L668.5,522 Q672,534.7 660,534.7 L586,534.7 Q574,534.7 577.5,522 L611.1,457 Z" fill="none" stroke="#cbcbcb" stroke-width="4.3" stroke-linejoin="round"/>
<text x="371.5" y="583.6" textLength="497" lengthAdjust="spacing" style="font-family:'Liberation Sans',sans-serif;font-weight:bold;font-size:36px" fill="#cdcdcd">MATERIAL INDICATORS</text>
<text x="446.5" y="617.5" textLength="354" lengthAdjust="spacing" style="font-family:'Liberation Sans',sans-serif;font-size:21px" fill="#cdcdcd">THE SCIENCE OF TRADING</text>
<line x1="372.7" y1="610.6" x2="438" y2="610.6" stroke="#cdcdcd" stroke-width="1.5"/>
<line x1="808" y1="610.6" x2="873" y2="610.6" stroke="#cdcdcd" stroke-width="1.5"/>
</g>
<polyline points="108.3,492.8 111.7,489.4 116.1,485.4 120.6,486.8 125,493.4 129.4,487.2 136.1,488.3 143.9,489.4 146.1,495 151.7,492.1 158.3,493.4 165,493.4 171.7,494.3 176.1,493.9 179.4,499.4 183.9,500.6 189.4,497.2 193.9,496.1 200.6,493.9 203.9,488.3 209.4,486.1 215,485 219.4,479.4 225,481.7 229.4,481.7 232.8,477.2 236.1,459.4 239.4,462.8 241.7,436.1 247.2,435.7 252.8,439.4 258.3,432.8 265,436.1 269.4,441.7 273.9,448.3 278.3,450.6 282.8,448.3 289.4,450.6 292.8,436.1 297.2,423.9 302.8,425 308.3,417.9 313.9,420.6 319.4,422.8 325,423.9 331.7,432.8 338.3,430.6 345,432.8 350.6,425 356.1,428.3 362.8,423.9 366.1,435 369.4,409.4 372.8,402.8 375,385 377.2,372.8 379.4,418.3 385,417.2 389.4,419.4 393.9,421.7 400.6,422.8 407.2,426.1 410.6,436.1 416.1,438.3 420.6,436.1 425,438.3 427.2,445 431.7,446.8 438.3,447.2 440.6,453.9 442.8,458.3 447.2,458.3 449.4,456.1 453.9,460.6 458.3,458.3 465,457.2 473.9,458.3 482.8,459.4 491.7,460.6 500.6,459.4 507.2,457.9 513.9,457.2 516.1,460.6 522.8,460.1 531.7,461.7 540.6,465 547.2,467.2 553.9,466.1 560.6,465 567.2,467.2 573.9,467.2 580.6,469.4 585,475 591.7,471.7 598.3,468.3 605,467.2 609.4,468.3 611.7,473.9 613.4,498.3 616.1,495 621.7,489.4 627.2,487.2 633.9,489.4 639.4,480.6 645,483.9 651.7,487.2 656.1,491.7 662.8,493.9 669.4,496.1 676.1,498.3 682.8,503.9 689.4,506.1 696.1,508.3 701.7,509.4 705,516.1 707.2,529.4 711.7,530.6 717.2,532.8 721.7,529.4 725,533.9 730.6,535 732.8,561.7 736.1,563.9 740.6,565 741.7,570.6 745,573.9 748.3,575 751.7,576.1 755,586.1 757.2,588.3 760.6,585 762.8,578.3 766.1,573.9 769.4,577.2 776.1,575 781.7,571.7 785,568.3 789.4,565 795,565 797.2,579.4 800.6,580.6 803.9,572.8 807.2,571.7 809.4,576.1 811.7,595 816.1,596.1 820.6,595 825,596.1 829.4,598.3 832.8,599.4 836.1,593.9 842.8,587.2 849.4,589.4 856.1,588.3 862.8,590.6 869.4,589.4 876.1,586.1 879.4,590.6 885,589.4 890.6,586.1 896.1,588.3 905,590.6 911.7,591.7 916.1,590.6 919.4,588.3 922.8,591.7 926.1,593.9 930.6,591.7 933.9,595 939.4,595 945,596.1 949.4,597.2 955,595 959.4,592.8 962.8,595.7 967.2,593.4 971.7,596.1 978.3,597.2 985,597.2 991.7,597.2 998.3,598.3 1002.8,601.7 1009.4,603.9 1016.1,606.1 1022.8,608.3 1029.4,611.7 1036.1,612.8 1045,613.9 1051.7,614.3 1055.6,613 1061.4,616.8 1065.3,623.7 1070.2,628.5 1075,633.4 1078.9,641.2 1082.8,637.3 1087.7,633.4 1092.5,630.5 1097.4,628.5 1101.3,635.3 1104.2,643.1 1107.1,645.1 1109.1,656.7 1112,664.5 1115.9,668.4 1119.8,670.4 1123.7,675.2 1127.5,674.2 1131.4,672.3 1135.3,660.6 1137.3,652.8" fill="none" stroke="#1f77b4" stroke-width="1.9" stroke-linejoin="round"/>
<polyline points="108.3,422.8 110.6,411.7 113.9,415 118.3,416.1 123.9,425 129.4,424.6 133.9,423.2 138.3,419.4 142.8,420.6 147.2,423.2 149.4,419.4 156.1,422.8 160.6,421.7 165,426.1 169.4,430.6 171.7,431.2 176.1,428.3 181.7,423.9 187.2,418.3 190.6,411.2 193.9,415 198.3,412.8 202.8,409.4 207.2,415 211.7,418.3 216.1,422.8 220.6,429.4 225,426.1 231.7,422.8 236.1,421.7 238.3,431.7 240.6,429.4 242.8,407.2 247.2,406.1 251.7,403.9 256.1,403.9 260.6,400.6 265,400.6 269.4,401.7 273.9,399.4 278.3,393.9 281.7,400.6 287.2,401.7 290.6,398.3 293.9,385 297.2,370.6 300.6,371.7 305,377.2 308.3,370.6 312.8,372.8 318.3,376.1 323.9,381.7 327.2,388.3 330.6,393.9 336.1,397.2 341.7,398.3 345,391.7 349.4,386.1 353.9,387.2 358.3,383.9 362.8,378.3 366.1,375 369.4,382.8 371.7,396.1 373.9,409.4 375,442.8 377.2,446.1 382.8,447.2 388.3,441.7 393.9,438.3 400.6,433.9 407.2,430.6 410.6,420.6 413.9,413.9 420.6,415 425,416.1 431.7,417.2 437.2,419.4 439.4,429.4 441.7,441.7 446.1,445 448.3,440.6 452.8,439.4 456.1,433.9 458.3,428.3 463.9,427.2 471.7,431.7 480.6,433.9 489.4,433.9 496.1,433.9 502.8,433.9 507.2,438.3 511.7,443.9 513.9,449.4 515,465 518.3,467.2 527.2,468.3 536.1,470.6 542.8,473.9 549.4,473.9 556.1,476.1 560.6,478.3 567.2,477.2 573.9,477.2 578.3,480.6 581.7,485 585,487.2 591.7,491.7 596.1,493.9 600.6,500.6 603.9,505 609.4,509.4 611.7,522.8 612.8,533.9 613.9,561.7 616.1,555 620.6,557.2 623.9,548.3 628.3,546.1 632.8,543.9 636.1,542.3 638.3,549.4 641.7,555 646.1,558.3 651.7,560.6 656.1,562.8 661.7,560.6 667.2,566.1 673.9,569.4 680.6,573.9 687.2,577.2 693.9,578.3 700.6,580.6 703.9,581.7 708.3,587.2 710.6,593.9 712.8,609.4 716.1,613.9 719.4,607.2 722.8,611.9 726.3,614.7 729.7,621.7 731.8,634.2 734.6,635.6 737.4,639.7 739.4,643.2 740.8,652.2 742.2,660.6 743.6,666.1 745.7,661.9 748.5,657.1 751.3,656.4 754,657.8 755.4,674.4 757.5,675.8 760.3,670.3 763.1,671.7 765.8,674.4 768.6,673.1 772.8,668.9 776.9,664.7 780.4,664.7 783.9,670.3 786.7,675.8 788.8,674.4 790.8,657.8 792.9,635.6 794.3,625.8 796.4,624.4 799.2,620.3 801.9,616.1 803.3,604.3 805.4,596.7 807.5,592.5 809.6,596.7 811,607.8 812.8,613.9 816.1,611.7 821.7,613.9 827.2,611.7 831.7,618.3 836.1,609.4 840.6,602.8 846.1,600.6 851.7,597.2 855,595 858.3,602.8 862.8,598.3 866.1,589.4 868.3,562.8 870.6,545 873.9,545 876.1,555 878.3,559.4 880.6,545 885,538.3 889.4,533.9 892.8,529.4 896.1,533.9 900.6,531.7 905,531.7 909.4,531.7 913.9,530.6 918.3,527.2 920.6,524.6 921.7,526.1 923.9,560.6 926.1,585 928.3,609.4 930.6,626.1 932.8,641.7 933.9,625 936.1,616.1 940.6,610.6 945,608.3 948.3,608.3 951.7,618.3 955,619.4 958.3,616.1 961.7,610.6 966.1,607.2 969.4,608.3 972.8,606.1 976.1,598.3 981.7,596.1 986.1,598.3 990.6,596.1 992.8,587.2 996.1,582.8 1002.8,577.2 1009.4,575 1016.1,575 1020.6,573.9 1025,576.1 1026.8,592.8 1029.4,589.4 1036.1,590.6 1045,591.7 1051.7,591.7 1055.6,591.6 1063.3,588.6 1069.2,584.7 1075,577.9 1080.9,574 1085.7,565.3 1090.6,560.4 1096.4,559.5 1099.3,555.6 1101.3,551.7 1102.3,545.8 1103.4,528.9 1105.6,519.4 1108.2,512.9 1110,518 1112.2,522.4 1114.3,515.8 1116.5,509.2 1118.7,507.8 1120.9,505.6 1123.1,496.9 1124.5,489.6 1126.7,477.9 1128.9,470.6 1131.1,465.5 1133.3,461.1 1135.5,472.8 1137.7,484.5" fill="none" stroke="#ff7f0e" stroke-width="1.9" stroke-linejoin="round"/>
<polyline points="108.3,418.3 110.6,407.2 113.9,406.8 122.8,410.6 127.2,412.8 138.3,411.2 143.9,412.8 146,415.7 153.9,416.6 162.8,418.3 171.7,419.4 180.6,420.6 187.2,419.4 190.6,415 196.1,412.8 201.7,404.6 205,406.8 213.9,406.8 220.6,407.2 226.1,410.6 232.8,419.4 236.1,411.7 239.4,413.9 241.7,397.2 247.2,396.6 249.4,401.7 253.9,403.9 258.3,399.4 262.8,402.8 265,403.9 269.4,405 278.3,405.4 287.2,406.1 290.6,403.9 292.8,389.4 296.1,385 301.7,385 307.2,383.9 311.7,382.8 318.3,382.8 325,383.9 331.7,385 338.3,386.1 343.9,385 347.2,387.2 349.4,385 353.9,380.6 358.3,375 362.8,372.8 367.2,371.7 370.6,375 373.9,377.2 377.2,370.6 378.3,385 385,386.1 393.9,387.2 400.6,389.4 406.1,391.7 409.4,406.1 416.1,405 425,408.3 431.7,408.3 439.4,416.1 442.8,418.3 447.2,418.3 453.9,417.2 458.3,412.8 465,414.3 473.9,417.2 482.8,418.3 491.7,419.4 498.3,421.7 505,420.6 513.9,421.7 516.1,428.3 522.8,429.4 531.7,431.7 540.6,432.8 549.4,436.1 558.3,436.1 567.2,435 573.9,436.1 580.6,438.3 585,442.8 589.4,443.9 596.1,447.2 602.8,450.6 609.4,452.8 611.7,456.1 613.4,487.2 616.1,486.1 619.4,486.1 623.9,481.7 629.4,485 636.1,488.3 642.8,496.1 649.4,501.7 656.1,505 661.7,511.7 669.4,512.8 678.3,518.3 687.2,521.7 696.1,523.9 702.8,527.2 706.1,532.8 711.7,535 716.1,539.4 720.6,540.6 726.1,541.7 731.7,542.8 732.8,559.4 738.3,560.6 741.7,569.4 745,567.2 749.4,565 753.9,562.8 756.1,572.8 761.7,573.9 765,569.4 769.4,571.7 776.1,571.2 781.7,572.8 786.1,580.6 791.7,582.8 796.1,586.1 801.7,587.2 805,589.4 807.2,592.8 809.4,600.6 811.7,617.2 818.3,616.1 827.2,615 833.9,615 842.8,613.9 849.4,616.1 856.1,619.4 862.8,621.7 869.4,621.7 876.1,620.6 878.3,622.8 881.7,616.1 887.2,615 893.9,616.1 899.4,619.4 905,621.7 909.4,621.7 913.9,618.3 918.3,619.4 925,621.7 930.6,625 936.1,626.1 942.8,627.2 949.4,628.3 953.9,632.8 959.4,631.7 962.8,631.7 966.1,636.1 971.7,635 978.3,636.1 985,637.2 993.9,639.4 1002.8,641.7 1011.7,641.7 1020.6,642.8 1029.4,645 1038.3,647.2 1047.8,648 1055.6,650.9 1063.3,653.8 1070.2,657.7 1072.1,652.8 1078.9,650.9 1086.7,649 1094.5,648 1102.3,649 1107.1,649.9 1110,658.7 1113.9,662.6 1117.8,664.5 1121.7,670.4 1125.6,668.4 1129.5,670.4 1133.4,672.3 1137.3,674.2" fill="none" stroke="#2ca02c" stroke-width="1.9" stroke-linejoin="round"/>
<polyline points="108.3,500.6 110.6,493.9 115,493.4 120.6,496.1 125,502.8 129.4,500.6 138.3,501.7 143.9,505 146.1,507.2 153.9,503.9 162.8,505 169.4,507.2 176.1,509.4 179.4,517.2 185,516.8 190.6,512.8 196.1,516.1 199.4,513.9 202.8,498.3 207.2,493.9 211.7,491.7 216.1,490.6 218.3,486.1 222.8,487.2 226.1,482.8 229.4,471.7 232.8,462.8 236.1,442.8 239.4,431.7 241.7,405 246.1,403.9 251.7,402.8 258.3,398.3 265,400.6 268.3,401.7 270.6,412.8 275,423.9 278.3,420.6 280.6,415 285,418.3 289.4,419.4 293.9,398.3 297.2,380.6 300.6,378.3 305,376.1 309.4,371.7 313.9,373.9 319.4,371.7 323.9,376.1 328.3,380.6 331.7,386.1 336.1,387.2 341.7,387.2 345,396.1 349.4,391.7 353.9,392.8 358.3,390.6 362.8,395 367.2,387.2 370.6,389.4 373.9,380.6 377.2,372.8 378.3,478.3 380.6,481.7 386.1,480.6 391.7,481.7 398.3,482.8 405,486.1 410.6,502.8 416.1,507.2 425,507.2 431.7,509.4 438.3,510.6 440.6,515 442.8,519.4 445,517.2 449.4,519.4 453.9,523.9 458.3,521.7 465,521 471.7,522.3 482.8,523.2 490.6,526.1 496.1,526.1 501.7,525 502.8,521.7 507.2,522.3 512.8,521.7 515,527.2 520.6,526.1 527.2,526.1 533.9,527.2 540.6,529.4 547.2,532.8 553.9,531.7 560.6,529.4 567.2,529.4 569.4,526.8 571.7,529.4 578.3,529.4 582.8,530.6 585,536.1 591.7,535 598.3,532.8 607.2,531.2 610.6,532.8 612.1,540.6 613.4,558.3 615,552.8 618.3,552.8 621.7,551.7 623.9,548.3 629.4,549.4 633.9,550.6 637.2,551.7 640.6,535 645,538.3 651.7,540.6 658.3,545 665,542.8 669.4,546.1 676.1,547.2 680.6,550.6 685,557.2 691.7,558.3 698.3,561.7 702.8,567.2 705,569.4 706.1,587.2 709.4,588.3 713.9,583.9 720.6,582.8 724.2,586.9 730.4,587.6 731.8,598.1 733.2,609.2 735.3,606.4 738.1,602.2 740.8,610.6 743.6,613.3 747.8,618.9 751.3,620.3 754.7,623.1 756.1,633.5 758.9,632.1 761.7,628.6 764.4,621.7 767.2,616.8 771.4,616.1 775.6,614.7 778.3,611.9 781.1,611.3 783.9,605 785.3,596.7 788.1,593.9 793.6,591.1 795.7,592.5 797.1,601.5 800.6,602.2 803.3,598.1 806.8,593.2 808.9,593.2 811,605 814.4,607.1 820,607.8 825.6,609.2 829.7,612.6 832.5,614 836.1,609.4 840.6,602.8 847.2,601.7 853.9,599.4 860.6,600.6 866.1,602.8 871.7,605 876.1,596.1 879.4,597.2 881.7,607.2 887.2,605 891.7,601.7 898.3,603.9 905,608.3 909.4,608.3 913.9,606.1 918.3,603.9 921.7,608.3 926.1,609.4 929.4,603.9 933.9,605 938.3,606.1 942.8,607.2 948.3,608.3 952.8,605 958.3,601.7 962.8,603.9 967.2,606.1 971.7,608.3 978.3,609.4 985,608.3 991.7,607.2 996.1,608.3 1002.8,611.7 1009.4,613.9 1016.1,615 1022.8,617.2 1027.2,613.9 1031.7,617.2 1038.3,616.1 1045,617.2 1051.7,617.2 1055.6,618.8 1061.4,621.7 1065.3,626.6 1071.1,632.4 1075,636.3 1078.9,639.2 1082.8,636.3 1087.7,631.4 1092.5,629.5 1097.4,627.5 1101.3,630.5 1105.2,636.3 1108.1,637.3 1111,646 1113.9,648 1116.8,645.1 1118.8,648 1122.7,668.4 1125.6,676.2 1129.5,674.2 1133.4,676.2 1135.3,649 1137.3,617.8" fill="none" stroke="#d62728" stroke-width="1.9" stroke-linejoin="round"/>
<polyline points="108.3,573.3 110.6,571.6 112.8,573.3 113.9,556.7 117.2,552.2 120.6,552.2 123.9,557.8 126.1,562.2 128.3,561.1 130.6,547.8 133.9,550 136.1,553.3 138.3,546.7 142.8,545.6 145,557.8 147.2,551.1 149.4,550 151.2,542.2 152.8,551.1 158.3,551.1 162.8,548.9 169.4,550 176.1,545.6 179.4,553.3 182.8,555.6 189.4,555.6 191.7,553.3 198.3,556.7 202.8,562.2 207.2,558.9 213.9,558.9 215,561.1 218.3,544.4 220.6,548.9 225,553.3 229.4,556.7 232.8,558.9 236.1,545.6 238.3,544.4 239.4,561.1 241,562.2 241.7,540 245,541.1 248.3,537.8 252.8,545.6 258.3,538.9 263.9,547.8 265,545.6 267.2,551.1 270.6,547.8 273.9,551.1 276.1,561.1 280.6,565.6 283.9,566.7 286.1,562.2 288.3,563.3 289.9,568.9 292.8,550 296.1,546.7 299.4,553.3 303.9,560 307.2,560 309,552.2 312.8,557.8 316.1,564.4 320.6,565.6 323.9,560 326.1,570 329.4,573.3 331.7,580 335,575.6 340.6,573.3 343.9,566.7 347.2,567.8 350.6,552.9 352.8,556.7 355,555.6 357.2,567.8 360.6,568.9 362.8,561.1 364.3,570 366.1,585.6 367.7,548.9 369.4,520 376.1,369.4 380.6,376.1 386.1,373.9 391.7,378.3 398.3,380.6 403.9,381.7 409.4,389.4 412.8,395 417.2,389.4 420.6,383.9 425,385 426.1,383.9 427.2,407.2 431.7,408.3 437.2,409.4 439.4,406.1 441.7,420.6 443.9,427.2 447.2,419.4 449.4,425 456.1,429.4 460.6,427.2 465,423.9 469.4,425 476.1,427.2 482.8,425 488.3,422.8 492.8,418.3 498.3,417.2 501.7,419.4 503.9,415 509.4,415 513.9,411.7 516.1,407.2 520.6,405 527.2,406.1 533.9,405 538.3,406.1 542.8,411.7 546.1,415 551.7,412.8 557.2,409.4 560.6,410.6 562.8,419.4 567.2,417.2 571.7,418.3 576.1,420.6 580.6,421.7 583.9,418.3 585,428.3 588.3,417.2 591.7,416.1 595,415 597.2,403.9 599.4,395 602.8,393.9 607.2,392.8 608.3,398.3 609.9,391.7 611.2,398.3 612.8,421.7 615,418.3 619.4,417.2 621.7,411.7 625,405 627.2,397.2 631.7,395 637.2,396.1 639.4,381.7 641.7,379.4 646.1,381.7 649.4,382.8 651.2,395 653.9,391.7 658.3,395 662.8,396.1 667.2,398.3 673.9,399.4 680.6,402.8 687.2,407.2 689.4,406.1 696.1,406.1 700.6,405.4 702.8,412.8 705,413.9 706.8,433.9 709.4,438.3 712.1,425 716.1,423.9 719.4,426.1 721.7,422.8 725,428.3 730.6,430.6 732.8,473.9 736.1,476.1 740.6,480.6 745,481.7 747.2,486.1 750.6,487.2 753.9,492.8 756.1,500.6 759.4,498.3 761,505 762.8,487.2 765,483.9 766.6,473.9 769.4,479.4 773.9,478.3 778.3,472.8 781.7,475 784.6,485 788.3,476.1 792.8,477.2 796.1,478.3 797.2,507.2 800.6,503.9 803.9,499.4 809.4,500.6 811.2,520.6 811.7,526.1 813.9,532.8 817.2,527.2 821.7,530.6 827.2,531.7 832.8,537.2 836.1,530.6 840.6,523.9 842.8,512.8 849.4,513.9 856.1,516.1 865,517.2 873.9,515 878.3,521.7 882.8,531.7 887.2,522.8 891.7,518.3 898.3,518.3 905,519.4 909.4,521.7 913.9,522.8 918.3,517.2 922.8,518.3 927.2,516.1 929.4,513.9 932.8,520.6 938.3,522.8 943.9,526.1 947.2,522.8 951.7,516.1 955,515 959.4,509.4 962.8,512.8 966.1,510.6 969.4,515 973.9,513.9 980.6,514.3 985,513.9 989.4,511.7 992.8,517.2 996.1,516.1 999.4,522.8 1002.8,523.9 1007.2,527.2 1011.7,531.7 1018.3,532.8 1022.8,537.2 1027.2,541.7 1031.7,546.1 1038.3,546.1 1045.8,545.8 1051.7,544.9 1056.5,544.9 1059.5,548.8 1062.4,551.7 1064.3,561.4 1067.2,567.2 1070.2,573.1 1071.5,584.7 1073.1,592.5 1076,600.3 1078.9,608.1 1082.8,609.1 1085.7,599.3 1088.6,600.3 1091.6,595.4 1095.4,593.5 1098.4,596.4 1100.3,604.2 1102.3,615.9 1104.2,627.5 1107.1,630.5 1109.1,656.7 1112,660.6 1114.9,666.5 1117.8,664.5 1121.7,674.2 1125.6,668.4 1129.5,661.6 1132.4,666.5 1135.3,662.6 1137.3,664.5" fill="none" stroke="#9467bd" stroke-width="1.9" stroke-linejoin="round"/>
<polyline points="108.3,657.8 150.6,657.8 151.2,676 170.6,676 171.7,648.9 240.6,648.9 241.7,563.3 245.4,563.3 246.1,516.1 263.9,516.1 263.9,480.6 330.6,480.6 331.7,461.7 350.6,461.7 351.2,446.8 363.9,446.8 365,467.7 373.4,467.7 376.1,369.4 561.7,369.4 562.5,383.9 597.2,383.9 597.7,369.4 612.1,369.4 613.2,383.9 705,383.9 706.8,400.6 707.2,436.1 730.6,436.1 731.7,516.6 755,516.6 756.1,531.2 761,531.2 762.3,580.6 783.9,580.6 785,546.1 796.1,546.1 797.2,537.9 805.4,537.9 806.8,522.3 826.1,522.3 827.7,505.3 935,505.3 935.7,520.6 964.6,520.6 965.4,487.2 997.2,487.2 998.3,523.4 1062.8,523.4 1063.3,543.2 1070.2,543.2 1071.1,559.5 1101.3,559.5 1102.3,604.2 1108.1,604.2 1109.1,636.3 1119.4,636.3 1120.2,617.4 1137.3,617.4" fill="none" stroke="#8c564b" stroke-width="1.9" stroke-linejoin="round"/>
<line x1="107.5" y1="369.4" x2="107.5" y2="677.2" stroke="#222" stroke-width="1.3"/>
<line x1="106.9" y1="676.6" x2="1138.6" y2="676.6" stroke="#222" stroke-width="1.3"/>
<line x1="102" y1="676.6" x2="107.5" y2="676.6" stroke="#222" stroke-width="1"/>
<line x1="104.5" y1="664.3" x2="107.5" y2="664.3" stroke="#222" stroke-width="1"/>
<line x1="104.5" y1="652" x2="107.5" y2="652" stroke="#222" stroke-width="1"/>
<line x1="104.5" y1="639.7" x2="107.5" y2="639.7" stroke="#222" stroke-width="1"/>
<line x1="104.5" y1="627.4" x2="107.5" y2="627.4" stroke="#222" stroke-width="1"/>
<line x1="102" y1="615.2" x2="107.5" y2="615.2" stroke="#222" stroke-width="1"/>
<line x1="104.5" y1="602.9" x2="107.5" y2="602.9" stroke="#222" stroke-width="1"/>
<line x1="104.5" y1="590.6" x2="107.5" y2="590.6" stroke="#222" stroke-width="1"/>
<line x1="104.5" y1="578.3" x2="107.5" y2="578.3" stroke="#222" stroke-width="1"/>
<line x1="104.5" y1="566" x2="107.5" y2="566" stroke="#222" stroke-width="1"/>
<line x1="102" y1="553.7" x2="107.5" y2="553.7" stroke="#222" stroke-width="1"/>
<line x1="104.5" y1="541.4" x2="107.5" y2="541.4" stroke="#222" stroke-width="1"/>
<line x1="104.5" y1="529.1" x2="107.5" y2="529.1" stroke="#222" stroke-width="1"/>
<line x1="104.5" y1="516.9" x2="107.5" y2="516.9" stroke="#222" stroke-width="1"/>
<line x1="104.5" y1="504.6" x2="107.5" y2="504.6" stroke="#222" stroke-width="1"/>
<line x1="102" y1="492.3" x2="107.5" y2="492.3" stroke="#222" stroke-width="1"/>
<line x1="104.5" y1="480" x2="107.5" y2="480" stroke="#222" stroke-width="1"/>
<line x1="104.5" y1="467.7" x2="107.5" y2="467.7" stroke="#222" stroke-width="1"/>
<line x1="104.5" y1="455.4" x2="107.5" y2="455.4" stroke="#222" stroke-width="1"/>
<line x1="104.5" y1="443.1" x2="107.5" y2="443.1" stroke="#222" stroke-width="1"/>
<line x1="102" y1="430.8" x2="107.5" y2="430.8" stroke="#222" stroke-width="1"/>
<line x1="104.5" y1="418.6" x2="107.5" y2="418.6" stroke="#222" stroke-width="1"/>
<line x1="104.5" y1="406.3" x2="107.5" y2="406.3" stroke="#222" stroke-width="1"/>
<line x1="104.5" y1="394" x2="107.5" y2="394" stroke="#222" stroke-width="1"/>
<line x1="104.5" y1="381.7" x2="107.5" y2="381.7" stroke="#222" stroke-width="1"/>
<line x1="102" y1="369.4" x2="107.5" y2="369.4" stroke="#222" stroke-width="1"/>
<text x="93.9" y="679" text-anchor="end" textLength="20.4" lengthAdjust="spacingAndGlyphs" style="font-size:11px" fill="#444">0.00</text>
<text x="96.6" y="617.6" text-anchor="end" textLength="45.8" lengthAdjust="spacingAndGlyphs" style="font-size:11px" fill="#444">200.00 m</text>
<text x="96.6" y="556.1" text-anchor="end" textLength="45.8" lengthAdjust="spacingAndGlyphs" style="font-size:11px" fill="#444">400.00 m</text>
<text x="96.6" y="494.7" text-anchor="end" textLength="45.8" lengthAdjust="spacingAndGlyphs" style="font-size:11px" fill="#444">600.00 m</text>
<text x="96.6" y="433.2" text-anchor="end" textLength="45.8" lengthAdjust="spacingAndGlyphs" style="font-size:11px" fill="#444">800.00 m</text>
<text x="93.9" y="371.8" text-anchor="end" textLength="20.4" lengthAdjust="spacingAndGlyphs" style="font-size:11px" fill="#444">1.00</text>
<line x1="174.4" y1="675.1" x2="174.4" y2="682.4" stroke="#222" stroke-width="1.2"/>
<text x="174.4" y="692.6" text-anchor="middle" textLength="23" lengthAdjust="spacingAndGlyphs" style="font-size:11px" fill="#444">1/13</text>
<line x1="394" y1="675.1" x2="394" y2="682.4" stroke="#222" stroke-width="1.2"/>
<text x="394" y="692.6" text-anchor="middle" textLength="23" lengthAdjust="spacingAndGlyphs" style="font-size:11px" fill="#444">1/16</text>
<line x1="613.5" y1="675.1" x2="613.5" y2="682.4" stroke="#222" stroke-width="1.2"/>
<text x="613.5" y="692.6" text-anchor="middle" textLength="23" lengthAdjust="spacingAndGlyphs" style="font-size:11px" fill="#444">1/19</text>
<line x1="833.1" y1="675.1" x2="833.1" y2="682.4" stroke="#222" stroke-width="1.2"/>
<text x="833.1" y="692.6" text-anchor="middle" textLength="23" lengthAdjust="spacingAndGlyphs" style="font-size:11px" fill="#444">1/22</text>
<line x1="1052.7" y1="675.1" x2="1052.7" y2="682.4" stroke="#222" stroke-width="1.2"/>
<text x="1052.7" y="692.6" text-anchor="middle" textLength="23" lengthAdjust="spacingAndGlyphs" style="font-size:11px" fill="#444">1/25</text>
<text x="623.7" y="710.6" text-anchor="middle" textLength="66" lengthAdjust="spacingAndGlyphs" style="font-size:12.5px;font-style:italic" fill="#444">Date (UTC)</text>
<text transform="translate(28.2,522.4) rotate(-90)" text-anchor="middle" textLength="120" lengthAdjust="spacingAndGlyphs" style="font-size:12.5px;font-style:italic" fill="#444">Norm. CVD (arb. u.)</text>
<rect x="1139.4" y="538.8" width="123.9" height="135" fill="#fff" fill-opacity="0.9" stroke="#ececec" stroke-width="1"/>
<line x1="1147" y1="556.5" x2="1164.4" y2="556.5" stroke="#1f77b4" stroke-width="1.8"/>
<text x="1169.6" y="560.1" textLength="55.6" lengthAdjust="spacingAndGlyphs" style="font-size:12.5px" fill="#444">all orders</text>
<line x1="1147" y1="576.9" x2="1164.4" y2="576.9" stroke="#ff7f0e" stroke-width="1.8"/>
<text x="1169.6" y="580.5" textLength="69.4" lengthAdjust="spacingAndGlyphs" style="font-size:12.5px" fill="#444">$100 to $1k</text>
<line x1="1147" y1="597.2" x2="1164.4" y2="597.2" stroke="#2ca02c" stroke-width="1.8"/>
<text x="1169.6" y="600.8" textLength="69.4" lengthAdjust="spacingAndGlyphs" style="font-size:12.5px" fill="#444">$1k to $10k</text>
<line x1="1147" y1="617.6" x2="1164.4" y2="617.6" stroke="#d62728" stroke-width="1.8"/>
<text x="1169.6" y="621.2" textLength="83.75" lengthAdjust="spacingAndGlyphs" style="font-size:12.5px" fill="#444">$10k to $100k</text>
<line x1="1147" y1="637.9" x2="1164.4" y2="637.9" stroke="#9467bd" stroke-width="1.8"/>
<text x="1169.6" y="641.5" textLength="81.25" lengthAdjust="spacingAndGlyphs" style="font-size:12.5px" fill="#444">$100k to $1M</text>
<line x1="1147" y1="658.3" x2="1164.4" y2="658.3" stroke="#8c564b" stroke-width="1.8"/>
<text x="1169.6" y="661.9" textLength="78.75" lengthAdjust="spacingAndGlyphs" style="font-size:12.5px" fill="#444">$1M to $10M</text>
</svg></body></html>
